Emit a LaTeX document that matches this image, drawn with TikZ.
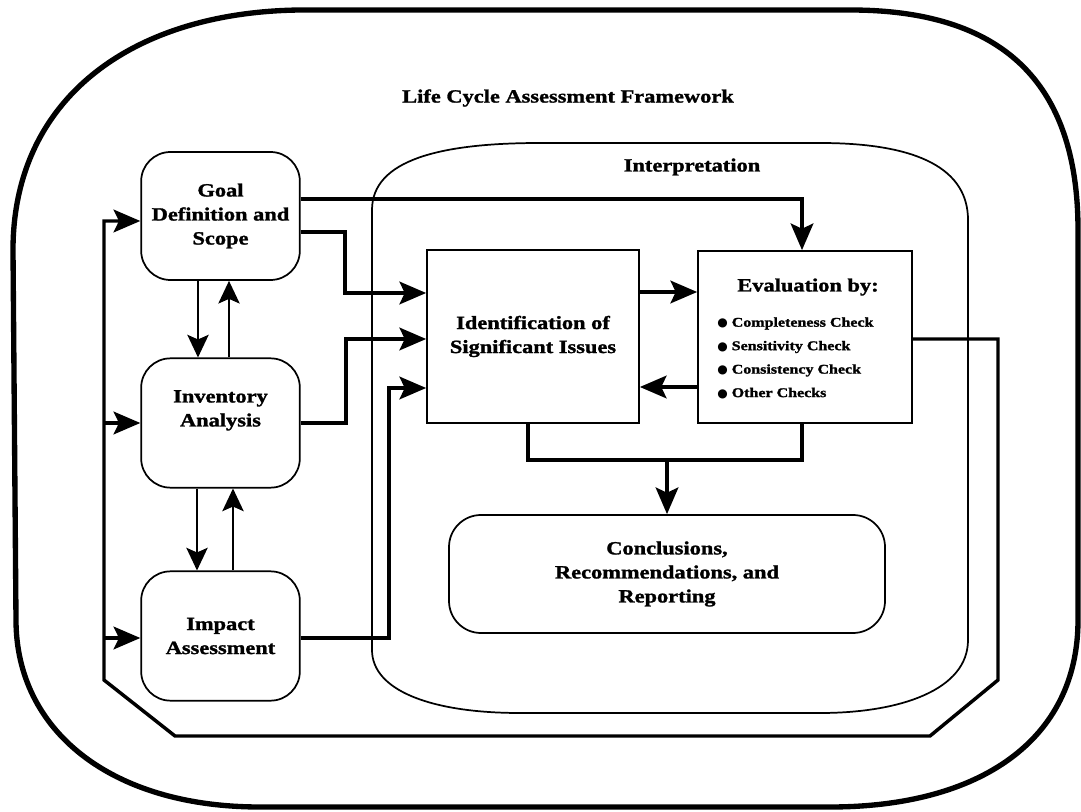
\documentclass[tikz,border=0pt]{standalone}
\usepackage{fontspec}
\setmainfont{Liberation Serif}[FakeStretch=1.2, BoldFeatures={FakeBold=1.5}]
\newfontfamily\lcasym{DejaVu Sans}
\usetikzlibrary{arrows.meta,calc}
\newcommand\lcafont{\fontsize{14}{18}\selectfont\bfseries}
\newcommand\lcasmall{\fontsize{10}{17.6}\selectfont\bfseries}
\newcommand\lcabul{{\lcasym\fontsize{9}{9}\selectfont ●}\hspace{3pt}}
\begin{document}
\begin{tikzpicture}[x=0.75pt,y=-0.75pt,
  lbox/.style={draw, line width=1.3pt, rounded corners=22pt, minimum width=119pt,
    minimum height=97pt, align=center, font=\lcafont, inner sep=0pt},
  sbox/.style={draw, line width=1.3pt, align=center, font=\lcafont, inner sep=0pt},
  conn/.style={line width=2.6pt},
  thin/.style={line width=1.4pt},
  arr/.style={-{Stealth[length=20pt,width=17pt,inset=4pt]}},
  sarr/.style={-{Stealth[length=17pt,width=16pt,inset=3.5pt]}},
  lbl/.style={font=\lcafont, inner sep=0pt}
]
\useasboundingbox (0,0) rectangle (1081,812);

% outer frame
\draw[line width=4pt]
  (13,250) .. controls (13,100) and (130,12) .. (300,10)
  -- (850,10) .. controls (1000,10) and (1078,80) .. (1078,230)
  -- (1078,620) .. controls (1078,740) and (980,807) .. (830,807)
  -- (260,807) .. controls (110,807) and (16,730) .. (16,620) -- cycle;

% interpretation container
\draw[line width=1.3pt]
  (372,210) .. controls (372,160) and (440,143) .. (540,143)
  -- (820,143) .. controls (920,143) and (968,170) .. (968,220)
  -- (968,640) .. controls (968,690) and (900,713) .. (820,713)
  -- (520,713) .. controls (430,713) and (372,690) .. (372,650) -- cycle;

\node[lbl] (title) at (568,98) {Life Cycle Assessment Framework};
\node[lbl] (interp) at (692,167) {Interpretation};

% left boxes
\node[lbox, minimum height=96pt] (goal) at (220.5,216) {Goal\\Definition and\\Scope};
\node[lbox] (inv) at (220.5,423) {Inventory\\Analysis\\[4pt]};
\node[lbox] (imp) at (220.5,636) {Impact\\Assessment};

% interpretation boxes
\node[sbox, minimum width=159pt, minimum height=129.75pt] (ident) at (533,336.5)
  {Identification of\\Significant Issues};
\node[sbox, minimum width=160.5pt, minimum height=129pt] (eval) at (805,337) {};
\node[lbl] (evalt) at (808,287) {Evaluation by:};
\node[anchor=west, align=left, font=\lcasmall, inner sep=0pt] (evall) at (717,358)
  {\lcabul Completeness Check\\ \lcabul Sensitivity Check\\ \lcabul Consistency Check\\ \lcabul Other Checks};
\node[lbox, rounded corners=24pt, minimum width=327pt, minimum height=88.5pt] (concl) at (667,574)
  {Conclusions,\\Recommendations, and\\Reporting};

% coordinates
\coordinate (g1) at (802,199);
\coordinate (g2) at (345,232);
\coordinate (g3) at (345,293);
\coordinate (i1) at (346,339);
\coordinate (m1) at (389,388);
\coordinate (e1) at (802,292);
\coordinate (e2) at (802,387);
\coordinate (c1) at (528,460);
\coordinate (c2) at (802,460);
\coordinate (c3) at (667,460);
\coordinate (l1) at (998,339);
\coordinate (l2) at (998,680);
\coordinate (l3) at (930,736);
\coordinate (l4) at (175,736);
\coordinate (l5) at (104,680);
\coordinate (l6) at (104,221);
\coordinate (l7) at (104,423);
\coordinate (l8) at (104,638);

% connectors
\draw[conn,arr] (goal.east |- g1) -- (g1) -- (g1 |- eval.north);
\draw[conn,arr] (goal.east |- g2) -- (g2) -- (g3) -- (ident.west |- g3);
\draw[conn,arr] (inv.east) -- (inv.east -| i1) -- (i1) -- (ident.west |- i1);
\draw[conn,arr] (imp.east |- l8) -- (m1 |- l8) -- (m1) -- (ident.west |- m1);
\draw[conn,arr] (ident.east |- e1) -- (eval.west |- e1);
\draw[conn,arr] (eval.west |- e2) -- (ident.east |- e2);
\draw[conn] (ident.south -| c1) -- (c1) -- (c2) -- (eval.south -| c2);
\draw[conn,arr] (c3) -- (concl.north);
\draw[conn,arr] (eval.east |- l1) -- (l1) -- (l2) -- (l3) -- (l4) -- (l5) -- (l6) -- (goal.west |- l6);
\draw[conn,arr] (l7) -- (inv.west |- l7);
\draw[conn,arr] (l8) -- (imp.west |- l8);

% thin arrows between left boxes
\draw[thin,sarr] (goal.south -| 198,0) -- (inv.north -| 198,0);
\draw[thin,sarr] (inv.north -| 229,0) -- (goal.south -| 229,0);
\draw[thin,sarr] (inv.south -| 197,0) -- (imp.north -| 197,0);
\draw[thin,sarr] (imp.north -| 233,0) -- (inv.south -| 233,0);
\end{tikzpicture}
\end{document}
